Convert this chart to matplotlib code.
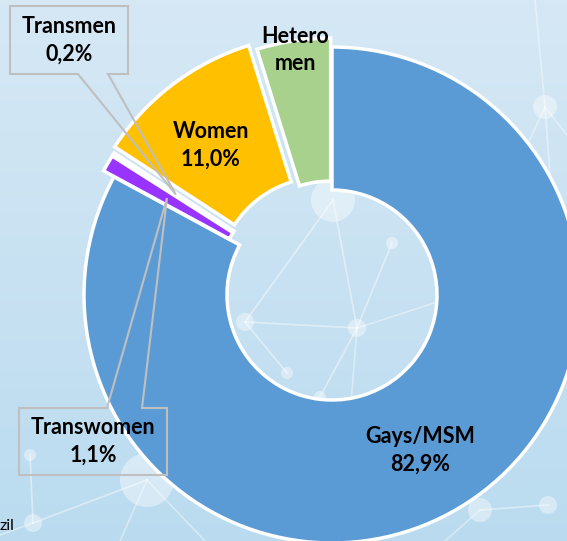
import numpy as np
import matplotlib.pyplot as plt
from matplotlib.patches import Polygon, Circle

# data
categories = ["Gays/MSM", "Transwomen", "Transmen", "Women", "Hetero men"]
values = [82.9, 1.1, 0.2, 11.0, 4.8]
label_texts = ["Gays/MSM\n82,9%", "Transwomen\n1,1%", "Transmen\n0,2%",
               "Women\n11,0%", "Hetero\nmen"]
colors = ["#5b9bd5", "#9933ff", "#9933ff", "#ffc000", "#a9d18e"]

W, H = 567, 541


def Y(y):
    return H - y


fig = plt.figure(figsize=(W / 100, H / 100), dpi=100)
ax = fig.add_axes([0, 0, 1, 1])

# background gradient
grad = np.linspace(0, 1, 256).reshape(-1, 1)
top = np.array([0.84, 0.91, 0.96])
bot = np.array([0.73, 0.86, 0.94])
img = top + (bot - top) * grad[:, :, None]
ax.imshow(img, extent=[0, W, 0, H], origin="upper", aspect="auto", zorder=0)

# decorative network
nodes = {"A": (545, 107, 12), "B": (333, 200, 22), "C": (392, 243, 6),
         "D": (245, 322, 9), "E": (357, 328, 9), "F": (287, 373, 6),
         "G": (147, 480, 27), "H": (30, 455, 6), "I": (33, 523, 9),
         "J": (480, 510, 12), "K": (548, 505, 9), "L": (320, 397, 6)}
edges = [("B", "D"), ("B", "E"), ("C", "E"), ("D", "E"), ("D", "F"),
         ("E", "L"), ("H", "I"), ("I", "G"), ("J", "K")]
for a, b in edges:
    ax.plot([nodes[a][0], nodes[b][0]], [Y(nodes[a][1]), Y(nodes[b][1])],
            color="white", alpha=0.45, lw=1.2, zorder=1)
for ends in [((545, 107), (535, 0)), ((545, 107), (567, 135)), ((545, 107), (552, 200)),
             ((545, 107), (525, 150)), ((357, 328), (567, 260)), ((147, 480), (120, 541)),
             ((147, 480), (205, 541)), ((480, 510), (445, 541)), ((33, 523), (0, 535)),
             ((357, 328), (340, 541))]:
    (x1, y1), (x2, y2) = ends
    ax.plot([x1, x2], [Y(y1), Y(y2)], color="white", alpha=0.4, lw=1.2, zorder=1)
for x, y, r in nodes.values():
    ax.add_patch(Circle((x, Y(y)), r, color="white", alpha=0.4, lw=0, zorder=1))

# donut
cx, cy, R, r_in = 332, 295, 248, 105
explode = [0, 12, 12, 16, 9]
wedges, _ = ax.pie(values, radius=R, center=(cx, Y(cy)), startangle=90,
                   counterclock=False, explode=explode, colors=colors,
                   wedgeprops=dict(width=R - r_in, edgecolor="white", linewidth=2.5))
for w in wedges:
    w.set_zorder(2)

font = dict(family="Lato", weight="bold", fontsize=15.5, color="black",
            ha="center", va="center", linespacing=1.4, zorder=5)

# in-slice labels
ax.text(420, Y(450), label_texts[0], **font)
ax.text(211, Y(145), label_texts[3], **font)
ax.text(295, Y(50), label_texts[4], **font)

# callouts for the small slices
def callout(box, base, tip, text, top_side):
    x0, y0, x1, y1 = box
    b0, b1 = base
    if top_side:
        pts = [(x0, y0), (b0, y0), tip, (b1, y0), (x1, y0), (x1, y1), (x0, y1)]
    else:
        pts = [(x0, y0), (x1, y0), (x1, y1), (b1, y1), tip, (b0, y1), (x0, y1)]
    ax.add_patch(Polygon([(px, Y(py)) for px, py in pts], closed=True,
                         fill=False, edgecolor="#bfbfbf", lw=1.5, zorder=4))
    ax.text((x0 + x1) / 2, Y((y0 + y1) / 2), text, **font)


def tip_of(w, frac):
    th = np.deg2rad((w.theta1 + w.theta2) / 2)
    x0, y0 = w.center
    rr = w.r - (w.r - r_in) * frac
    return (x0 + rr * np.cos(th), Y(y0 + rr * np.sin(th)))


callout((10, 6, 128, 74), (78, 108), tip_of(wedges[2], 0.52), label_texts[2], False)
callout((19, 408, 167, 475), (107, 142), tip_of(wedges[1], 0.48), label_texts[1], True)

ax.text(0, Y(526), "zil", fontsize=11.5, family="Lato", ha="left", va="center", zorder=5)

ax.set_xlim(0, W)
ax.set_ylim(0, H)
ax.set_aspect("auto")
ax.axis("off")
fig.savefig("out.png", dpi=100)
